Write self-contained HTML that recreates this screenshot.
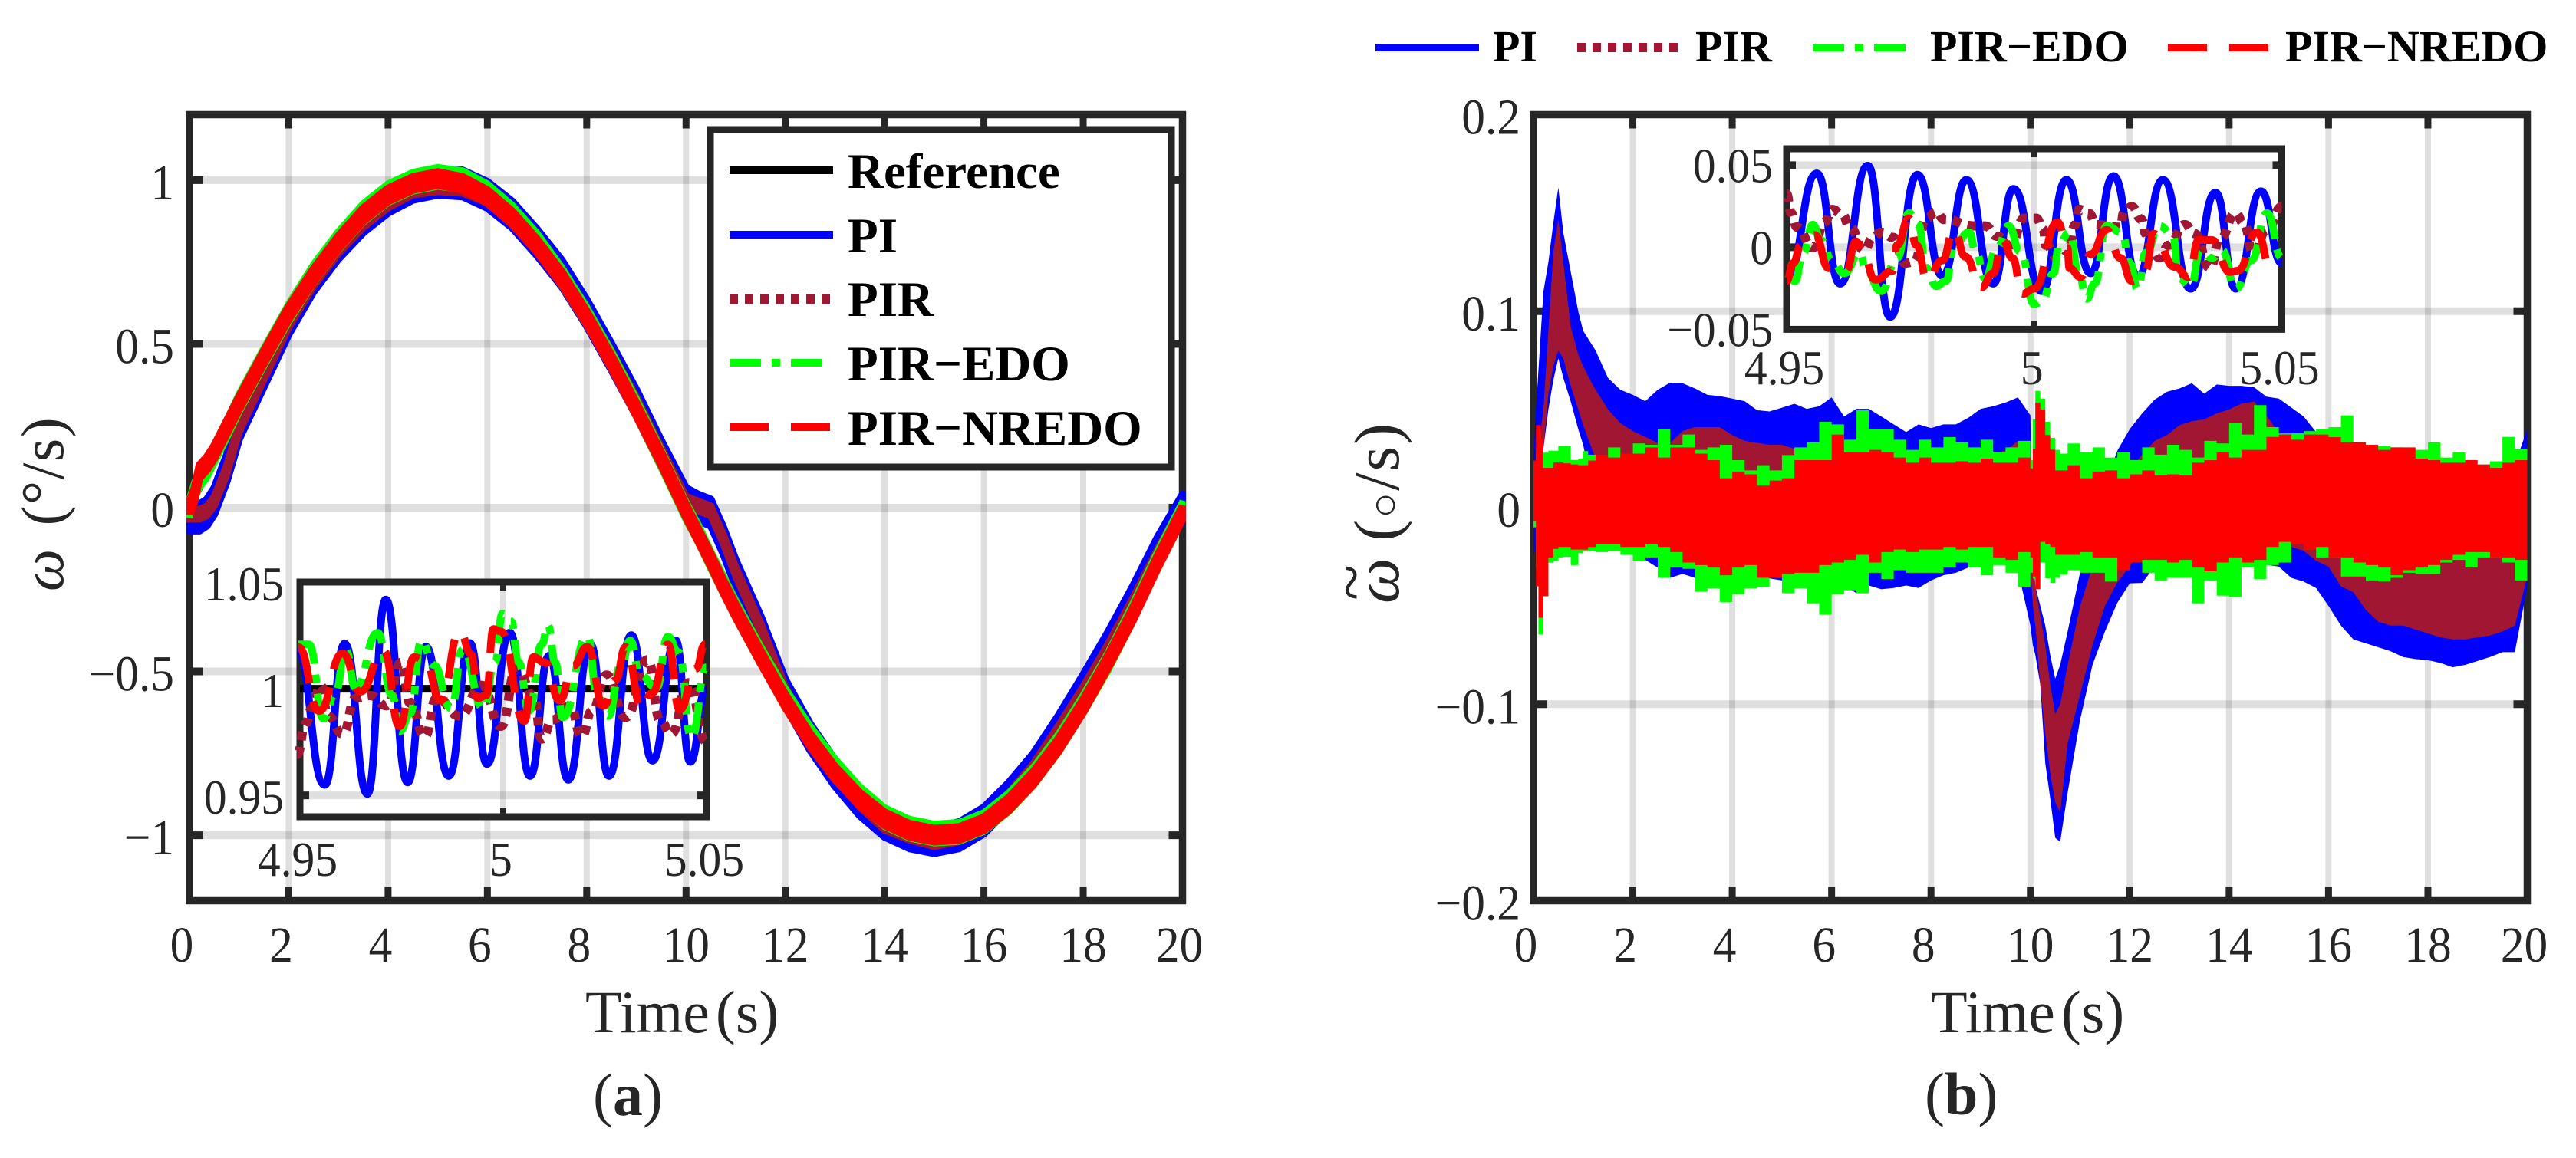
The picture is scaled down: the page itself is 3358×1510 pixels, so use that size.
<!DOCTYPE html>
<html lang="en">
<head>
<meta charset="utf-8">
<title>Speed tracking and speed error comparison</title>
<style>
html,body{margin:0;padding:0;background:#fff;width:3358px;height:1510px;overflow:hidden}
svg{display:block}
text{font-family:"Liberation Serif","DejaVu Serif",serif;fill:#262626}
.leg{font-weight:bold;fill:#000}
</style>
</head>
<body>
<svg id="fig" xmlns="http://www.w3.org/2000/svg" width="3358" height="1510" viewBox="0 0 3358 1510">
<defs>
<clipPath id="clipA"><rect x="243" y="145" width="1303" height="1034"/></clipPath>
<clipPath id="clipB"><rect x="1994" y="145" width="1305" height="1034"/></clipPath>
</defs>
<g id="chartA"></g>
<g id="chartB"></g>

<g id="titlesA">
<text transform="translate(82,771) rotate(-90)" font-size="78" letter-spacing="1.5"><tspan font-style="italic">ω</tspan><tspan dx="8"> (°/s)</tspan></text>
<text x="763" y="1346" font-size="78">Time<tspan dx="8">(s)</tspan></text>
<text x="773" y="1454" font-size="78">(<tspan font-weight="bold">a</tspan>)</text>
</g>
<g id="titlesB">
<text transform="translate(1823,787) rotate(-90)" font-size="84" letter-spacing="2"><tspan font-style="italic">ω</tspan><tspan dx="20">(</tspan><tspan font-size="56" dy="0">○</tspan><tspan>/s)</tspan></text>
<text transform="translate(1790,783) rotate(-90)" font-size="87">~</text>
<text x="2517" y="1346" font-size="78">Time<tspan dx="8">(s)</tspan></text>
<text x="2509" y="1453" font-size="78">(<tspan font-weight="bold">b</tspan>)</text>
</g>

<g id="legendB">
<line x1="1793" x2="1928" y1="62" y2="62" stroke="#0000ff" stroke-width="10"/>
<text class="leg" x="1946" y="80" font-size="58">PI</text>
<line x1="2056" x2="2188" y1="62" y2="62" stroke="#a11632" stroke-width="12" stroke-dasharray="11 9"/>
<text class="leg" x="2210" y="80" font-size="58">PIR</text>
<line x1="2363" x2="2485" y1="62" y2="62" stroke="#00ff00" stroke-width="10" stroke-dasharray="41 14 11 14"/>
<text class="leg" x="2516" y="80" font-size="58">PIR−EDO</text>
<line x1="2826" x2="2958" y1="62" y2="62" stroke="#ff0000" stroke-width="10" stroke-dasharray="51 29"/>
<text class="leg" x="2979" y="80" font-size="58">PIR−NREDO</text>
</g>
</svg>

<script>
/* ---------- chart (a): main axis data ---------- */
const aTimes = [0,.1,.2,.35,.5,.75,1,1.5,2,2.5,3,3.5,4,4.5,5,5.5,6,6.5,7,7.5,8,8.5,9,9.5,10,10.25,10.5,10.75,11,11.5,12,12.5,13,13.5,14,14.5,15,15.5,16,16.5,17,17.5,18,18.5,19,19.5,20];
const aReference = [0,.031,.063,.11,.156,.233,.309,.454,.588,.707,.809,.891,.951,.988,1,.988,.951,.891,.809,.707,.588,.454,.309,.156,0,-.078,-.156,-.233,-.309,-.454,-.588,-.707,-.809,-.891,-.951,-.988,-1,-.988,-.951,-.891,-.809,-.707,-.588,-.454,-.309,-.156,0];
const aPI = [-.03,-.03,-.03,-.015,.02,.12,.25,.41,.57,.70,.80,.88,.94,.98,.995,.99,.955,.895,.81,.715,.595,.46,.32,.165,.02,0,-.015,-.10,-.20,-.37,-.565,-.70,-.81,-.90,-.965,-1,-1.015,-1,-.955,-.88,-.79,-.675,-.55,-.42,-.28,-.13,0];
const aPIR = [-.02,-.02,-.02,-.01,.02,.115,.245,.405,.565,.69,.79,.87,.93,.97,.98,.975,.945,.89,.81,.715,.595,.465,.325,.17,.02,.005,-.01,-.095,-.195,-.365,-.56,-.70,-.81,-.90,-.97,-1,-1.02,-1.005,-.96,-.885,-.795,-.68,-.56,-.43,-.29,-.14,0];
const aEDO = [0,.05,.09,.12,.165,.24,.32,.46,.595,.715,.815,.9,.96,.995,1.01,1,.96,.895,.81,.705,.585,.45,.305,.15,-.01,-.08,-.16,-.235,-.31,-.45,-.58,-.695,-.795,-.88,-.945,-.98,-.995,-.99,-.96,-.9,-.82,-.72,-.6,-.47,-.32,-.16,-.01];
const aNREDO = [0,.04,.11,.135,.17,.245,.32,.46,.595,.71,.81,.895,.955,.99,1.005,.99,.95,.885,.8,.70,.58,.445,.30,.15,-.01,-.085,-.16,-.24,-.315,-.455,-.59,-.71,-.81,-.89,-.95,-.985,-1,-.995,-.965,-.905,-.825,-.725,-.605,-.47,-.325,-.165,-.015];
const aSpreadPI = .04, aSpreadPIR = .015, aSpreadEDO = .03, aSpreadNREDO = .02;
const aXTicks = [0,2,4,6,8,10,12,14,16,18,20];
const aXLabels = ['0','2','4','6','8','10','12','14','16','18','20'];
const aYTicks = [-1,-.5,0,.5,1];
const aYLabels = ['−1','−0.5','0','0.5','1'];

/* ---------- chart (a): inset data ---------- */
const iaPIt = [4.9493,4.9561,4.961,4.9666,4.9711,4.9765,4.981,4.9866,4.9918,4.996,5.0016,5.0066,5.0113,5.016,5.0214,5.026,5.0315,5.0367,5.0424,5.046,5.0499];
const iaPIv = [1.0173,.9549,1.0211,.9507,1.0418,.9561,1.0197,.9591,1.0214,.9647,1.0263,.9591,1.0155,.9573,1.0209,.9591,1.0251,.9663,1.0227,.9657,1];
const iaPIRt = [4.9493,4.9514,4.9529,4.9551,4.9569,4.9605,4.9637,4.9673,4.9713,4.9749,4.9771,4.9807,4.9836,4.9893,4.9947,4.9994,5.0034,5.0074,5.0095,5.0121,5.0164,5.0193,5.0218,5.0254,5.0301,5.0355,5.0387,5.0413,5.0456,5.0499];
const iaPIRv = [.9692,.9836,.9908,1.0016,.9872,.9788,.9956,.9968,.992,1.0124,.9932,.9776,.9956,.9872,1.0016,.9824,1.01,.9968,.9764,.9854,.992,.9776,.9896,1.0064,.9866,1.0136,.9848,.9788,1.0028,.9752];
const iaEDOt = [4.9496,4.9522,4.9558,4.9587,4.9612,4.9637,4.9691,4.9727,4.9745,4.9771,4.9799,4.9828,4.9872,4.99,4.9951,4.998,4.9998,5.0019,5.0038,5.0063,5.0095,5.011,5.0128,5.0146,5.0207,5.0232,5.0258,5.029,5.0312,5.0337,5.0377,5.0405,5.0431,5.0463,5.0499];
const iaEDOv = [1.0208,1.0208,.986,.998,1.0184,1.0004,1.0262,.9968,.98,.9884,1.0226,1.0112,.9908,1.0184,.9908,1.0124,1.0352,1.0316,1.0124,.9896,1.0208,1.0298,1.0124,.9866,1.0244,.9968,.9872,1.0112,1.0226,1.0064,1.0004,1.0244,1.0172,.977,1.01];
const iaNREDOt = [4.9496,4.9547,4.9605,4.9648,4.9706,4.9745,4.9781,4.9807,4.9846,4.9893,4.9922,4.9937,4.9958,4.9976,4.9994,5.0052,5.0074,5.0102,5.0139,5.0171,5.0207,5.0247,5.0276,5.0301,5.0341,5.0366,5.0405,5.0434,5.0474,5.0496];
const iaNREDOv = [1.0196,.9896,1.0166,.9986,1.0178,.9824,1.0148,1.0136,.9944,1.0268,1.016,.9956,.9968,1.028,1.0268,.9848,1.0148,1.0124,.9944,1.0106,1.0196,.992,1.004,1.0196,.9908,.998,1.0208,.9902,1.0094,1.0208];
const iaRefT = [4.95,5.05];
const iaRefV = [1,1];
const iaXTicks = [4.95,5,5.05];
const iaXLabels = ['4.95','5','5.05'];
const iaYTicks = [.95,1,1.05];
const iaYLabels = ['0.95','1','1.05'];

/* ---------- chart (b): main axis data (upper / lower envelope per controller) ---------- */
const bTimes = [0,.05,.1,.15,.2,.3,.4,.5,.6,.75,.9,1,1.1,1.25,
 1.5,1.75,2,2.25,2.5,2.75,3,3.25, 3.5,3.75,4,4.25,4.5,4.75,5,5.25, 5.5,5.75,6,6.25,6.5,6.75,7,7.25, 7.5,7.75,8,8.25,8.5,8.75,9,9.25, 9.5,9.75,
 10,10.05,10.1,10.2,10.3,10.4,10.5,10.6,10.75,
 11,11.25,11.5,11.75, 12,12.25,12.5,12.75, 13,13.25,13.5,13.75, 14,14.25,14.5,14.75, 15,15.25,15.5,15.75, 16,16.25,16.5,16.75, 17,17.25,17.5,17.75, 18,18.25,18.5,18.75, 19,19.25,19.5,19.75, 20];
const bPIHi = [.025,.05,.07,.09,.11,.125,.145,.163,.14,.12,.1,.09,.086,.08,
 .066,.06,.0574,.0542,.06,.0636,.0633,.0607, .0574,.0568,.0555,.0542,.0496,.049,.0509,.0529, .0503,.0516,.0561,.0464,.0503,.0503,.0464,.0424, .0385,.0424,.0405,.0424,.0424,.0457,.0503,.0516, .0535,.0561,
 .047,-.025,-.04,-.05,-.06,-.075,-.087,-.08,-.063,
 -.033,-.01,.012,.029, .04,.048,.055,.059, .0607,.0633,.058,.0627, .062,.062,.0613,.0565, .0555,.051,.0464,.0385, .0353,.032,.03,.028, .026,.025,.024,.023, .022,.021,.021,.02, .02,.02,.021,.022, .04];
const bPILo = [-.025,-.02,-.01,.01,.03,.05,.065,.076,.066,.054,.04,.032,.02,-.01,
 -.018,-.02,-.021,-.0266,-.0305,-.0357,-.0337,-.0357, -.036,-.036,-.036,-.036,-.036,-.036,-.037,-.037, -.037,-.0409,-.0383,-.0396,-.0435,-.0396,-.0415,-.0409, -.0396,-.0409,-.037,-.0344,-.0331,-.0305,-.0279,-.0279, -.0292,-.0318,
 -.06,-.07,-.075,-.09,-.13,-.148,-.168,-.17,-.145,
 -.108,-.08,-.063,-.0484, -.0385,-.0383,-.03,-.03, -.03,-.03,-.03,-.03, -.03,-.03,-.03,-.029, -.03,-.0357,-.0376,-.0409, -.05,-.06,-.067,-.069, -.071,-.073,-.076,-.077, -.0776,-.079,-.0812,-.08, -.078,-.076,-.0735,-.0735, -.04];
const bPIRHi = [.01,.02,.03,.04,.05,.09,.13,.147,.125,.092,.078,.072,.067,.06,
 .05,.043,.039,.036,.033,.033,.039,.041, .041,.041,.037,.034,.033,.032,.032,.03, .029,.03,.03,.028,.028,.028,.027,.027, .026,.026,.027,.027,.027,.028,.028,.028, .029,.034,
 .02,-.02,-.04,-.055,-.07,-.09,-.105,-.1,-.08,
 -.05,-.03,-.005,.012, .02,.027,.034,.037, .042,.044,.045,.048, .05,.053,.054,.047, .038,.03,.028,.025, .025,.022,.022,.022, .022,.022,.022,.022, .022,.022,.022,.022, .022,.022,.022,.022, .022];
const bPIRLo = [-.01,-.01,-.005,.01,.03,.058,.072,.08,.076,.062,.05,.042,.035,.025,
 -.02,-.02,-.02,-.02,-.02,-.02,-.02,-.02, -.02,-.02,-.02,-.02,-.02,-.02,-.02,-.02, -.02,-.02,-.02,-.02,-.02,-.02,-.02,-.02, -.02,-.02,-.02,-.02,-.02,-.02,-.02,-.02, -.02,-.02,
 -.03,-.05,-.06,-.09,-.115,-.135,-.15,-.155,-.12,
 -.095,-.07,-.05,-.038, -.03,-.02,-.02,-.02, -.02,-.02,-.02,-.02, -.02,-.02,-.02,-.02, -.02,-.02,-.022,-.027, -.03,-.04,-.043,-.052, -.058,-.06,-.06,-.062, -.064,-.066,-.067,-.067, -.066,-.065,-.063,-.06, -.035];
const bEDOHi = [.015,.03,.038,.034,.028,.029,.029,.0314,.0314,.0242,.025,.0288,.027,.0255,
 .0307,.0242,.0327,.032,.04,.032,.0372,.0294, .0307,.032,.0242,.019,.0216,.019,.0268,.0307, .0333,.0437,.0424,.0346,.0496,.04,.04,.0346, .0294,.0346,.0307,.0359,.0333,.0307,.0346,.0281, .0307,.034,
 .0242,.045,.0594,.0555,.0437,.0355,.0294,.0275,.0327,
 .0281,.0307,.0255,.0281, .0242,.0307,.027,.032, .0294,.0255,.034,.0327, .0431,.0372,.0522,.041, .0378,.0379,.039,.0398, .041,.047,.0333,.032, .0314,.0307,.03,.0294, .0333,.0255,.0281,.0216, .0216,.0236,.036,.03, .0229];
const bEDOLo = [-.01,-.03,-.0645,-.0645,-.045,-.028,-.027,-.0253,-.025,-.0292,-.023,-.022,-.022,-.0226,
 -.022,-.024,-.0272,-.0253,-.0357,-.0305,-.0311,-.0428, -.041,-.048,-.044,-.041,-.0402,-.0357,-.0435,-.041, -.0487,-.0545,-.044,-.042,-.0435,-.0331,-.0363,-.0318, -.0331,-.0331,-.0331,-.0305,-.0279,-.0305,-.0344,-.0292, -.0331,-.0402,
 -.0331,-.036,-.031,-.0279,-.036,-.0383,-.0357,-.034,-.0318,
 -.0331,-.0331,-.0376,-.0305, -.0279,-.0331,-.037,-.0357, -.0357,-.0487,-.037,-.0448, -.0454,-.0305,-.0363,-.0292, -.0279,-.0174,-.0213,-.0253, -.0253,-.035,-.035,-.037, -.0376,-.0357,-.0331,-.0337, -.0337,-.0279,-.0266,-.0305, -.0253,-.0253,-.0279,-.037, -.0357];
const bNREDOHi = [.024,.042,.042,.035,.0203,.0203,.023,.023,.0226,.022,.0216,.0216,.024,.027,
 .0255,.0275,.0275,.0307,.0255,.0307,.0307,.0275, .0242,.015,.0184,.017,.0112,.0138,.015,.0242, .0242,.0242,.0372,.0281,.0281,.0294,.0281,.0255, .0229,.0255,.0229,.0229,.0236,.0229,.025,.0229, .0229,.0255,
 .02,.03,.0535,.05,.037,.0295,.019,.019,.0216,
 .015,.0184,.019,.015, .017,.019,.0164,.017, .0164,.0229,.0242,.0281, .0255,.0294,.0294,.036, .0372,.0346,.0372,.0372, .0359,.0333,.0333,.032, .0294,.0307,.0307,.025, .0242,.0229,.0229,.0242, .0216,.0203,.0229,.0242, .0229];
const bNREDOLo = [-.007,-.04,-.056,-.056,-.045,-.0253,-.021,-.02,-.02,-.0213,-.0213,-.0213,-.02,-.0187,
 -.0187,-.02,-.02,-.0187,-.02,-.0226,-.0279,-.0292, -.0305,-.0344,-.0305,-.0292,-.0357,-.0357,-.0337,-.0331, -.0331,-.0292,-.0279,-.0266,-.024,-.0279,-.0226,-.0213, -.0226,-.0213,-.0213,-.02,-.0213,-.02,-.02,-.0253, -.0266,-.0226,
 -.0253,-.035,-.0415,-.0174,-.0187,-.02,-.024,-.024,-.024,
 -.0226,-.0253,-.0253,-.0318, -.0279,-.0266,-.0266,-.0279, -.0266,-.0305,-.0324,-.0279, -.0253,-.0279,-.0266,-.02, -.0174,-.0187,-.0213,-.02, -.0253,-.0253,-.0279,-.0292, -.0305,-.0344,-.0318,-.0305, -.0292,-.0266,-.024,-.0226, -.0226,-.0253,-.0253,-.0266, -.0226];
const bXTicks = [0,2,4,6,8,10,12,14,16,18,20];
const bXLabels = ['0','2','4','6','8','10','12','14','16','18','20'];
const bYTicks = [-.2,-.1,0,.1,.2];
const bYLabels = ['−0.2','−0.1','0','0.1','0.2'];

/* ---------- chart (b): inset data ---------- */
const ibPIt = [4.95,4.9561,4.9608,4.9664,4.9709,4.9764,4.9815,4.9863,4.9917,4.9958,5.0015,5.0065,5.0114,5.016,5.0209,5.026,5.0316,5.0366,5.0407,5.0458,5.05];
const ibPIv = [-.0198,.045,-.0222,.0497,-.0425,.0442,-.0175,.0411,-.0222,.0356,-.0268,.0411,-.0159,.0434,-.0175,.0411,-.0253,.0333,-.0253,.0341,-.0097];
const ibPIRt = [4.95,4.9509,4.9521,4.9553,4.9577,4.9592,4.9612,4.9628,4.9656,4.9675,4.9691,4.9715,4.9739,4.9758,4.9782,4.9802,4.9818,4.9881,4.9901,4.9925,4.9952,4.998,5.0004,5.0019,5.0023,5.0051,5.0067,5.0083,5.0091,5.011,5.0126,5.0174,5.0181,5.0197,5.0217,5.0225,5.0237,5.0253,5.0272,5.0304,5.0324,5.0355,5.0375,5.0407,5.0423,5.0442,5.047,5.05];
const ibPIRv = [.0325,.0208,.0122,-.0003,.0153,.0231,.02,.0122,-.0018,.006,.0091,.006,-.0097,-.0089,.0177,.0216,.0169,.013,.013,.0067,.0013,.0177,.0177,.0106,.0013,-.0081,-.0049,.0138,.0231,.0208,.0138,.0122,.0216,.0247,.0169,.0083,-.0011,-.0065,.0013,.0138,.0083,-.0128,.0052,.0208,.0146,-.0034,.0106,.0247];
const ibEDOt = [4.95,4.9517,4.9533,4.9553,4.9569,4.9592,4.9616,4.9648,4.966,4.9691,4.9723,4.9747,4.9766,4.9782,4.9802,4.9822,4.9838,4.9869,4.9881,4.9901,4.9925,4.9948,4.9972,5.0,5.0015,5.0039,5.0051,5.0071,5.009,5.0106,5.0122,5.0146,5.0177,5.0193,5.0209,5.0225,5.0253,5.028,5.0292,5.0316,5.0336,5.0359,5.0379,5.0407,5.0438,5.047,5.05];
const ibEDOv = [-.0175,-.0206,-.0034,.0138,.0044,-.0081,-.0159,-.0034,-.0143,-.0268,-.0065,.0208,.0138,-.0128,-.0237,-.0206,.0013,.0091,-.0018,-.019,-.0003,.013,-.0026,-.0347,-.0331,-.0159,.0028,.0091,-.0159,-.0315,-.0222,.013,.0091,-.0097,-.0253,-.0034,.013,.0075,-.019,-.0237,-.0018,-.0065,-.0018,-.0253,-.0081,.0208,-.0065];
const ibNREDOt = [4.95,4.9513,4.9529,4.9557,4.9585,4.962,4.964,4.9652,4.9679,4.9715,4.9723,4.9747,4.9762,4.9784,4.9814,4.9838,4.9861,4.9893,4.9917,4.9936,4.9956,4.9976,5.0,5.0047,5.0067,5.0071,5.0094,5.0114,5.0146,5.0174,5.0197,5.0225,5.0241,5.0284,5.0312,5.0332,5.0359,5.0395,5.0411,5.045,5.0478];
const ibNREDOv = [-.0206,-.0097,.0013,.0075,-.0128,-.0143,.0036,-.0018,-.0198,-.0143,.0013,.0177,.0013,-.0198,-.0081,.0106,-.0058,-.0245,-.0159,.0044,-.0065,-.0284,-.0253,.0153,-.0003,-.0128,-.0182,-.0042,.0106,-.0065,-.0206,-.0143,.0083,-.012,-.0182,.0044,.0044,-.0151,-.0143,.0091,-.0128];
const ibXTicks = [4.95,5,5.05];
const ibXLabels = ['4.95','5','5.05'];
const ibYTicks = [-.05,0,.05];
const ibYLabels = ['−0.05','0','0.05'];

/* ---------- rendering ---------- */
const NS = 'http://www.w3.org/2000/svg';
const DARK = '#262626', BLUE = '#0000ff', PURPLE = '#a11632', GREEN = '#00ff00', RED = '#ff0000';
const GRID_OP = .15;

function add(parent, tag, attrs, txt) {
  const n = document.createElementNS(NS, tag);
  for (const k in attrs) n.setAttribute(k, attrs[k]);
  if (txt !== undefined) n.textContent = txt;
  parent.appendChild(n);
  return n;
}
function linearScale(d0, d1, r0, r1) {
  return v => r0 + (v - d0) * (r1 - r0) / (d1 - d0);
}
function place(x, y) {
  return 'translate(' + x + ',' + y + ') scale(.93,1)';
}
function bandPath(t, hi, lo, X, Y, stairs) {
  let d = '';
  const n = t.length;
  for (let i = 0; i < n; i++) {
    if (i === 0) d += 'M' + X(t[0]) + ' ' + Y(hi[0]);
    else if (stairs) d += 'H' + X(t[i]) + 'V' + Y(hi[i]);
    else d += 'L' + X(t[i]) + ' ' + Y(hi[i]);
  }
  for (let i = n - 1; i >= 0; i--) {
    if (i === n - 1) d += 'L' + X(t[i]) + ' ' + Y(lo[i]);
    else if (stairs) d += 'H' + X(t[i + 1]) + 'V' + Y(lo[i]) + 'H' + X(t[i]);
    else d += 'L' + X(t[i]) + ' ' + Y(lo[i]);
  }
  return d + 'Z';
}
function smoothPath(t, v, X, Y) {
  let d = 'M' + X(t[0]) + ' ' + Y(v[0]);
  for (let i = 1; i < t.length; i++) {
    const x0 = X(t[i - 1]), x1 = X(t[i]), m = (x0 + x1) / 2;
    d += 'C' + m + ' ' + Y(v[i - 1]) + ' ' + m + ' ' + Y(v[i]) + ' ' + x1 + ' ' + Y(v[i]);
  }
  return d;
}
function linePath(t, v, X, Y) {
  return t.map((s, i) => (i ? 'L' : 'M') + X(s) + ' ' + Y(v[i])).join('');
}

/* main-axes scaffolding: grid, frame, ticks, tick labels */
function drawMainAxes(g, box, xT, xL, yT, yL, X, Y, yAnchor) {
  const grid = add(g, 'g', {});
  
  
  xT.forEach(s => {
    if (s === xT[0] || s === xT[xT.length - 1]) return;
    const l = add(grid, 'line', {x1: X(s), x2: X(s), y1: box.t, y2: box.b, stroke: DARK, 'stroke-opacity': GRID_OP, 'stroke-width': 8});
    
    
  });
  yT.forEach(v => {
    if (v === yT[0] && box.skipEnds || v === yT[yT.length - 1] && box.skipEnds) return;
    const l = add(grid, 'line', {x1: box.l, x2: box.r, y1: Y(v), y2: Y(v), stroke: DARK, 'stroke-opacity': GRID_OP, 'stroke-width': 10});
    
    
  });
  const frame = add(g, 'rect', {x: box.l, y: box.t, width: box.r - box.l, height: box.b - box.t, fill: 'none', stroke: DARK, 'stroke-width': 9.5});
  
  
  xT.forEach((s, i) => {
    if (i > 0 && i < xT.length - 1) {
      [[box.t, box.t + 18], [box.b - 18, box.b]].forEach(p => {
        const t = add(g, 'line', {x1: X(s), x2: X(s), y1: p[0], y2: p[1], stroke: DARK, 'stroke-width': 9});
        
        
      });
    }
    const dx = xL[i].length === 1 ? -10 : (i === xT.length - 1 ? -4 : 0);
    const lab = add(g, 'text', {transform: place(X(s) + dx, 1254), 'font-size': 66, 'text-anchor': 'middle'}, xL[i]);
    
    
  });
  yT.forEach((v, i) => {
    if (!(box.skipEnds && (i === 0 || i === yT.length - 1))) {
      [[box.l, box.l + 18], [box.r - 18, box.r]].forEach(p => {
        const t = add(g, 'line', {x1: p[0], x2: p[1], y1: Y(v), y2: Y(v), stroke: DARK, 'stroke-width': 10});
        
        
      });
    }
    const lab = add(g, 'text', {transform: place(yAnchor, Y(v) + 25), 'font-size': 66, 'text-anchor': 'end'}, yL[i]);
    
    
  });
}

/* inset scaffolding */
function drawInsetAxes(g, box, xT, xL, yT, yL, X, Y, yAnchor, yBase, xBase, gridY) {
  const bg = add(g, 'rect', {x: box.l, y: box.t, width: box.r - box.l, height: box.b - box.t, fill: '#fff'});
  
  
  const gx = add(g, 'line', {x1: X(xT[1]), x2: X(xT[1]), y1: box.t, y2: box.b, stroke: DARK, 'stroke-opacity': GRID_OP, 'stroke-width': 8});
  
  
  gridY.forEach(v => {
    const gl = add(g, 'line', {x1: box.l, x2: box.r, y1: Y(v), y2: Y(v), stroke: DARK, 'stroke-opacity': GRID_OP, 'stroke-width': 10});
    
    
    [[box.l, box.l + 12], [box.r - 12, box.r]].forEach(p => {
      const t = add(g, 'line', {x1: p[0], x2: p[1], y1: Y(v), y2: Y(v), stroke: DARK, 'stroke-width': 10});
      
      
    });
  });
  [[box.t, box.t + 11], [box.b - 11, box.b]].forEach(p => {
    const t = add(g, 'line', {x1: X(xT[1]), x2: X(xT[1]), y1: p[0], y2: p[1], stroke: DARK, 'stroke-width': 8});
    
    
  });
  const f = add(g, 'rect', {x: box.l, y: box.t, width: box.r - box.l, height: box.b - box.t, fill: 'none', stroke: DARK, 'stroke-width': 9});
  
  
  xT.forEach((s, i) => {
    const lab = add(g, 'text', {transform: place(X(s) - 3, xBase), 'font-size': 64, 'text-anchor': 'middle'}, xL[i]);
    
    
  });
  yT.forEach((v, i) => {
    const lab = add(g, 'text', {transform: place(yAnchor, Y(v) + yBase), 'font-size': 64, 'text-anchor': 'end'}, yL[i]);
    
    
  });
}

const styles = {
  pi: {stroke: BLUE, 'stroke-width': 10, fill: 'none', 'stroke-linejoin': 'round'},
  pir: {stroke: PURPLE, 'stroke-width': 12, fill: 'none', 'stroke-dasharray': '11 9'},
  edo: {stroke: GREEN, 'stroke-width': 10, fill: 'none', 'stroke-dasharray': '41 14 11 14'},
  nredo: {stroke: RED, 'stroke-width': 10, fill: 'none', 'stroke-dasharray': '51 24'},
  ref: {stroke: '#000', 'stroke-width': 10, fill: 'none'}
};

/* ===== chart (a) ===== */
const gA = document.getElementById('chartA');
const boxA = {l: 247, r: 1541.5, t: 149.5, b: 1174.5, skipEnds: false};
const xA = linearScale(0, 20, boxA.l, boxA.r);
const yA = linearScale(-1.2, 1.2, boxA.b, boxA.t);
drawMainAxes(gA, boxA, aXTicks, aXLabels, aYTicks, aYLabels, xA, yA, 227);

const seriesA = add(gA, 'g', {'clip-path': 'url(#clipA)'});



const aRefLine = add(seriesA, 'path', {d: linePath(aTimes, aReference, xA, yA), stroke: '#000', 'stroke-width': 10, fill: 'none'});



function spreadBand(center, spread) {
  return bandPath(aTimes, center.map(v => v + spread), center.map(v => v - spread), xA, yA, false);
}
const aPiBand = add(seriesA, 'path', {d: spreadBand(aPI, aSpreadPI), fill: BLUE, stroke: BLUE, 'stroke-width': 10, 'stroke-linejoin': 'round'});


const aPirBand = add(seriesA, 'path', {d: spreadBand(aPIR, aSpreadPIR), fill: PURPLE, stroke: PURPLE, 'stroke-width': 9});


const aEdoBand = add(seriesA, 'path', {d: spreadBand(aEDO, aSpreadEDO), fill: GREEN, stroke: GREEN, 'stroke-width': 8});


const aRedoBand = add(seriesA, 'path', {d: spreadBand(aNREDO, aSpreadNREDO), fill: RED, stroke: RED, 'stroke-width': 10});



/* legend of chart (a) */
const legA = add(gA, 'g', {});


const legABox = add(legA, 'rect', {x: 926, y: 169, width: 601, height: 440, fill: '#fff', stroke: DARK, 'stroke-width': 9});


const legARows = [
  {label: 'Reference', y: 222, base: 245, style: {stroke: '#000', 'stroke-width': 10}, len: 135},
  {label: 'PI', y: 306, base: 329, style: {stroke: BLUE, 'stroke-width': 10}, len: 135},
  {label: 'PIR', y: 390, base: 412, style: {stroke: PURPLE, 'stroke-width': 13, 'stroke-dasharray': '11 9'}, len: 131},
  {label: 'PIR−EDO', y: 473, base: 496, style: {stroke: GREEN, 'stroke-width': 10, 'stroke-dasharray': '41 14 11 14'}, len: 121},
  {label: 'PIR−NREDO', y: 557, base: 580, style: {stroke: RED, 'stroke-width': 10, 'stroke-dasharray': '51 29'}, len: 131}
];
legARows.forEach(r => {
  const l = add(legA, 'line', Object.assign({x1: 951, x2: 951 + r.len, y1: r.y, y2: r.y}, r.style));
  
  
  const t = add(legA, 'text', {x: 1105, y: r.base, 'font-size': 65, class: 'leg'}, r.label);
  
  
});

/* inset of chart (a) */
const inA = add(gA, 'g', {});


const boxIA = {l: 391, r: 921, t: 759, b: 1065};
const xIA = linearScale(4.95, 5.05, boxIA.l, boxIA.r);
const yIA = linearScale(.94, 1.05, boxIA.b, boxIA.t);
drawInsetAxes(inA, boxIA, iaXTicks, iaXLabels, iaYTicks, iaYLabels, xIA, yIA, 370, 24, 1142, [.95, 1]);

const iaRef = add(inA, 'path', Object.assign({d: linePath(iaRefT, iaRefV, xIA, yIA)}, styles.ref));


const iaPi = add(inA, 'path', Object.assign({d: smoothPath(iaPIt, iaPIv, xIA, yIA)}, styles.pi));


const iaPir = add(inA, 'path', Object.assign({d: smoothPath(iaPIRt, iaPIRv, xIA, yIA)}, styles.pir));


const iaEdo = add(inA, 'path', Object.assign({d: smoothPath(iaEDOt, iaEDOv, xIA, yIA)}, styles.edo));


const iaNredo = add(inA, 'path', Object.assign({d: smoothPath(iaNREDOt, iaNREDOv, xIA, yIA)}, styles.nredo));



/* ===== chart (b) ===== */
const gB = document.getElementById('chartB');
const boxB = {l: 1999, r: 3294.5, t: 149.5, b: 1174.5, skipEnds: true};
const xB = linearScale(0, 20, boxB.l, boxB.r);
const yB = linearScale(-.2, .2, boxB.b, boxB.t);
drawMainAxes(gB, boxB, bXTicks, bXLabels, bYTicks, bYLabels, xB, yB, 1982);

const seriesB = add(gB, 'g', {'clip-path': 'url(#clipB)'});



const bPiBand = add(seriesB, 'path', {d: bandPath(bTimes, bPIHi, bPILo, xB, yB, false), fill: BLUE});


const bPirBand = add(seriesB, 'path', {d: bandPath(bTimes, bPIRHi, bPIRLo, xB, yB, false), fill: PURPLE});


const bEdoBand = add(seriesB, 'path', {d: bandPath(bTimes, bEDOHi, bEDOLo, xB, yB, true), fill: GREEN});


const bNredoBand = add(seriesB, 'path', {d: bandPath(bTimes, bNREDOHi, bNREDOLo, xB, yB, true), fill: RED});



/* inset of chart (b) */
const inB = add(gB, 'g', {});


const boxIB = {l: 2329, r: 2974.5, t: 194, b: 429.4};
const xIB = linearScale(4.95, 5.05, boxIB.l, boxIB.r);
const yIB = linearScale(-.05, .06, boxIB.b, boxIB.t);
drawInsetAxes(inB, boxIB, ibXTicks, ibXLabels, ibYTicks, ibYLabels, xIB, yIB, 2311, 22, 501, [0, .05]);

const ibPi = add(inB, 'path', Object.assign({d: smoothPath(ibPIt, ibPIv, xIB, yIB)}, styles.pi));


const ibPir = add(inB, 'path', Object.assign({d: smoothPath(ibPIRt, ibPIRv, xIB, yIB)}, styles.pir));


const ibEdo = add(inB, 'path', Object.assign({d: smoothPath(ibEDOt, ibEDOv, xIB, yIB)}, styles.edo));


const ibNredo = add(inB, 'path', Object.assign({d: smoothPath(ibNREDOt, ibNREDOv, xIB, yIB)}, styles.nredo));


</script>
</body>
</html>
